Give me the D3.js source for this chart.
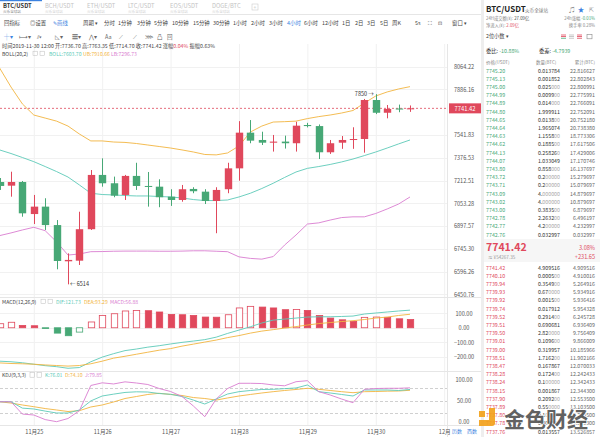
<!DOCTYPE html>
<html lang="zh">
<head>
<meta charset="utf-8">
<title>BTC/USDT 4小时 K线</title>
<script src="https://cdn.jsdelivr.net/npm/d3@7"></script>
<style>
body{margin:0;background:#fff;overflow:hidden}
svg{display:block;font-family:"Noto Sans CJK SC","Noto Sans",sans-serif}
</style>
</head>
<body>
<script>
// 4h candles, 2019-11-24 12:00 .. 2019-11-30 12:00
var times = ["2019-11-24 12:00","2019-11-24 16:00","2019-11-24 20:00",
  "2019-11-25 00:00","2019-11-25 04:00","2019-11-25 08:00","2019-11-25 12:00","2019-11-25 16:00","2019-11-25 20:00",
  "2019-11-26 00:00","2019-11-26 04:00","2019-11-26 08:00","2019-11-26 12:00","2019-11-26 16:00","2019-11-26 20:00",
  "2019-11-27 00:00","2019-11-27 04:00","2019-11-27 08:00","2019-11-27 12:00","2019-11-27 16:00","2019-11-27 20:00",
  "2019-11-28 00:00","2019-11-28 04:00","2019-11-28 08:00","2019-11-28 12:00","2019-11-28 16:00","2019-11-28 20:00",
  "2019-11-29 00:00","2019-11-29 04:00","2019-11-29 08:00","2019-11-29 12:00","2019-11-29 16:00","2019-11-29 20:00",
  "2019-11-30 00:00","2019-11-30 04:00","2019-11-30 08:00","2019-11-30 12:00"];
var open  = [7202,7176,7202,6979,7030,6904,6663,6667,6876,7252,7193,7111,7245,7174,7169,7099,7076,7153,7134,7069,7151,7299,7559,7505,7485,7493,7481,7616,7608,7415,7485,7507,7512,7805,7708,7740,7736.70];
var high  = [7230,7275,7209,7111,7088,6938,6715,6995,7287,7371,7240,7252,7339,7273,7221,7151,7181,7165,7151,7165,7339,7645,7653,7566,7542,7537,7640,7632,7620,7505,7534,7599,7813,7850,7767,7770,7763.35];
var low   = [7146,7099,6961,6911,6871,6611,6514,6639,6871,7169,7095,7076,7146,7030,7026,7035,7064,7123,7048,6849,7123,7211,7481,7468,7420,7442,7420,7598,7366,7403,7440,7440,7412,7698,7666,7712,7714.70];
var close = [7174,7202,6984,7030,6904,6665,6672,6876,7252,7193,7106,7245,7174,7171,7095,7076,7151,7137,7069,7146,7299,7559,7500,7485,7493,7481,7611,7608,7415,7481,7505,7512,7805,7708,7737,7736,7741.42];

var bollUp  = [8054,7905,7775,7691,7668,7645,7608,7549,7498,7498,7490,7487,7479,7468,7457,7446,7432,7417,7399,7396,7410,7461,7564,7608,7638,7641,7645,7664,7679,7691,7706,7725,7782,7836,7867,7890,7908];
var bollMid = [7432,7406,7377,7347,7312,7276,7237,7181,7123,7114,7111,7107,7104,7104,7100,7097,7090,7079,7072,7072,7076,7097,7123,7156,7193,7234,7273,7299,7312,7327,7345,7366,7391,7417,7446,7476,7505];
var bollLow = [6833,6851,6871,6889,6866,6791,6704,6711,6726,6727,6729,6730,6730,6730,6729,6729,6730,6732,6732,6729,6726,6692,6682,6677,6694,6770,6837,6911,6919,6938,6955,6960,6960,6983,7014,7048,7097];

var macdHist = [28,38,16,14,-2,-37,-55,-30,40,85,97,116,120,118,109,92,90,85,74,73,90,137,148,143,137,125,126,120,85,67,55,44,72,74,72,62,56.88];
var dif = [-231,-235,-242,-252,-262,-269,-280,-275,-235,-203,-179,-158,-147,-134,-124,-112,-101,-92,-82,-65,-39,-16,7,33,53,60,67,74,76,76,78,81,95,102,109,116,121.73];
var dea = [-243,-247,-249,-252,-257,-261,-265,-261,-249,-231,-210,-197,-183,-169,-155,-144,-127,-113,-99,-85,-68,-54,-37,-23,-13,-2,8,19,29,36,43,49,57,67,74,85,93.29];

var kdjK = [47,47,32,30,25,20.5,20.5,27.6,49,60.6,65,69,70.5,70,66.5,64.6,59.4,51,41.7,53.5,65.3,70.8,73.6,76,76.4,78,79.5,86.6,70.8,67.7,64.2,60.6,74.8,74.8,74.8,73.6,76.01];
var kdjD = [47,44,39.4,35.4,31,27.6,24,26,34.7,39.4,46.5,54.7,59.4,64.2,67,64.2,61.8,57,54.7,51,56,60.6,64.2,67.7,70.8,73.6,76,78.8,76.4,73.6,70.8,68.4,70.8,71.2,72,72.4,74.10];
var kdjJ = [47,47,18,15.8,5,0,7.5,26,85.4,91.7,89,94,91.3,87.7,78.3,71.2,59.4,37,11.8,53.5,78.3,90.6,90.6,90,86.6,84.7,94.3,96.7,70.8,63,53.5,44.8,76.4,78.3,78.8,78.8,79.85];

var priceTicks = [8064.22,7886.16,7541.83,7376.53,7212.51,7053.28,6897.57,6745.30,6596.26,6450.76];
var macdTicks = [100,0,-100,-200];
var kdjTicks = [100,50,0];
var kdjDash = [80,50,20];
var dayTicks = ["2019-11-25 00:00","2019-11-26 00:00","2019-11-27 00:00","2019-11-28 00:00","2019-11-29 00:00","2019-11-30 00:00","2019-12-01 00:00"];
var dayLabels = ["11月25","11月26","11月27","11月28","11月29","11月30","12月"];

var lastPrice = 7741.42;

// order book [price, qty, cumulative]
var asks = [["7745.20","0.013784","22.816627"],["7745.13","0.001852","22.802843"],["7745.00","0.025000","22.800991"],
  ["7744.99","0.009900","22.775991"],["7744.89","0.014000","22.766091"],["7744.80","1.999911","22.752091"],
  ["7744.65","0.013800","20.752180"],["7744.64","1.965074","20.738380"],["7744.63","1.155800","18.773306"],
  ["7744.62","0.188500","17.617506"],["7744.13","0.258260","17.429006"],["7744.07","1.033049","17.170746"],
  ["7743.80","0.858000","16.137697"],["7743.72","0.200000","15.279697"],["7743.71","0.200000","15.079697"],
  ["7743.09","4.000000","14.879697"],["7743.02","4.000000","10.879697"],["7743.00","0.383500","6.879697"],
  ["7742.78","2.263200","6.496197"],["7742.77","4.200000","4.232997"],["7742.76","0.032997","0.032997"]];
var bids = [["7741.42","4.909516","4.909516"],["7740.10","0.000500","4.910016"],["7739.94","0.354900","5.264916"],
  ["7739.93","0.670000","5.934916"],["7739.92","0.001500","5.936416"],["7739.74","0.017912","5.954328"],
  ["7739.52","0.291400","6.245728"],["7739.51","0.690681","6.936409"],["7739.50","2.820000","9.756409"],
  ["7739.01","0.109600","9.866009"],["7739.00","0.319957","10.185966"],["7738.51","1.716200","11.902166"],
  ["7738.47","0.167867","12.070033"],["7738.28","0.172400","12.242433"],["7738.24","0.100000","12.342433"],
  ["7738.15","0.001867","12.344300"],["7737.90","0.209200","12.553500"],["7737.89","0.550000","13.103500"],
  ["7737.80","0.100000","13.203500"],["7737.78","0.309800","13.513300"],["7737.76","0.013557","13.526857"]];

var W = 600, H = 437;
var RED = "#e0485c", GREEN = "#47a876", TEAL = "#5ccab8", ORANGE = "#f2b440", PINK = "#d97dd0";
var GRID = "#f1f1f1", TXT = "#555", BLUE = "#3b82e0";

var parseT = d3.timeParse("%Y-%m-%d %H:%M");
var bars = times.map(function(t, i) {
  return {t: parseT(t), o: open[i], h: high[i], l: low[i], c: close[i],
          up: bollUp[i], mid: bollMid[i], lo: bollLow[i],
          m: macdHist[i], prev: i ? macdHist[i-1] : null, dif: dif[i], dea: dea[i],
          k: kdjK[i], d: kdjD[i], j: kdjJ[i]};
});

var svg = d3.select("body").append("svg").attr("width", W).attr("height", H);

var x = d3.scaleTime().domain([parseT(dayTicks[0]), parseT(dayTicks[6])]).range([33.8, 444.2]);
var y = d3.scaleLog().domain([6450.76, 8064.22]).range([294.3, 66.7]);
var yM = d3.scaleLinear().domain([-200, 100]).range([356.7, 313.3]);
var yK = d3.scaleLinear().domain([0, 100]).range([421.7, 379.3]);
var bw = 7.4, plotR = 447;

var defs = svg.append("defs");
defs.append("clipPath").attr("id", "cMain").append("rect").attr("x", 0).attr("y", 58).attr("width", plotR).attr("height", 239);
defs.append("clipPath").attr("id", "cMacd").append("rect").attr("x", 0).attr("y", 298).attr("width", plotR).attr("height", 73);
defs.append("clipPath").attr("id", "cKdj").append("rect").attr("x", 0).attr("y", 372).attr("width", plotR).attr("height", 53);

// ---- grid
var grid = svg.append("g");
grid.selectAll(".vg").data(dayTicks).enter().append("line")
  .attr("x1", function(d) { return x(parseT(d)) + 0.5; }).attr("x2", function(d) { return x(parseT(d)) + 0.5; })
  .attr("y1", 44).attr("y2", 425).attr("stroke", GRID);
grid.selectAll(".hp").data(priceTicks).enter().append("line")
  .attr("x1", 0).attr("x2", plotR).attr("y1", function(d) { return Math.round(y(d)) + 0.5; })
  .attr("y2", function(d) { return Math.round(y(d)) + 0.5; }).attr("stroke", GRID);
grid.selectAll(".hm").data(macdTicks).enter().append("line")
  .attr("x1", 0).attr("x2", plotR).attr("y1", function(d) { return Math.round(yM(d)) + 0.5; })
  .attr("y2", function(d) { return Math.round(yM(d)) + 0.5; }).attr("stroke", GRID);
grid.selectAll(".hk").data(kdjDash).enter().append("line")
  .attr("x1", 0).attr("x2", plotR).attr("y1", function(d) { return Math.round(yK(d)) + 0.5; })
  .attr("y2", function(d) { return Math.round(yK(d)) + 0.5; })
  .attr("stroke", "#d0d0d0").attr("stroke-dasharray", "3,2");

// panel borders
[[0, 482, 14.5, 14.5], [0, 482, 297.5, 297.5], [0, 482, 371.5, 371.5], [0, 482, 425.5, 425.5]].forEach(function(l) {
  svg.append("line").attr("x1", l[0]).attr("x2", l[1]).attr("y1", l[2]).attr("y2", l[3]).attr("stroke", "#e6e6e6");
});
svg.append("line").attr("x1", plotR + 0.5).attr("x2", plotR + 0.5).attr("y1", 44).attr("y2", 437).attr("stroke", "#e6e6e6");
svg.append("rect").attr("x", 481).attr("y", 0).attr("width", 3).attr("height", H).attr("fill", "#eeeeee");

// ---- main chart
var main = svg.append("g").attr("clip-path", "url(#cMain)");
function lineOf(key, sc) {
  return d3.line().x(function(d) { return x(d.t); }).y(function(d) { return sc(d[key]); });
}
main.append("path").datum(bars).attr("d", lineOf("up", y)).attr("fill", "none").attr("stroke", ORANGE).attr("stroke-width", 0.9);
main.append("path").datum(bars).attr("d", lineOf("mid", y)).attr("fill", "none").attr("stroke", TEAL).attr("stroke-width", 0.9);
main.append("path").datum(bars).attr("d", lineOf("lo", y)).attr("fill", "none").attr("stroke", PINK).attr("stroke-width", 0.9);

main.append("line").attr("x1", 0).attr("x2", plotR).attr("y1", y(lastPrice)).attr("y2", y(lastPrice))
  .attr("stroke", RED).attr("stroke-width", 0.8).attr("stroke-dasharray", "2,2");

var cg = main.selectAll(".candle").data(bars).enter().append("g");
cg.append("line")
  .attr("x1", function(d) { return Math.round(x(d.t)) + 0.5; }).attr("x2", function(d) { return Math.round(x(d.t)) + 0.5; })
  .attr("y1", function(d) { return y(d.h); }).attr("y2", function(d) { return y(d.l); })
  .attr("stroke", function(d) { return d.c >= d.o ? RED : GREEN; });
cg.append("rect")
  .attr("x", function(d) { return Math.round(x(d.t)) + 0.5 - bw / 2; })
  .attr("width", bw)
  .attr("y", function(d) { return y(Math.max(d.o, d.c)); })
  .attr("height", function(d) { return Math.max(1, y(Math.min(d.o, d.c)) - y(Math.max(d.o, d.c))); })
  .attr("fill", function(d) { return d.c >= d.o ? RED : GREEN; });

// max / min labels
var hiBar = bars.reduce(function(a, b) { return b.h > a.h ? b : a; });
var loBar = bars.reduce(function(a, b) { return b.l < a.l ? b : a; });
svg.append("text").attr("x", x(hiBar.t) - 2).attr("y", y(hiBar.h) + 2).attr("text-anchor", "end")
  .attr("font-size", 5.5).attr("fill", "#333").text(d3.format("d")(hiBar.h) + " →");
svg.append("text").attr("x", x(loBar.t) + 2).attr("y", y(loBar.l) + 2).attr("text-anchor", "start")
  .attr("font-size", 5.5).attr("fill", "#333").text("← " + d3.format("d")(loBar.l));

// ---- MACD
var mg = svg.append("g").attr("clip-path", "url(#cMacd)");
mg.selectAll(".mb").data(bars).enter().append("rect")
  .attr("x", function(d) { return Math.round(x(d.t)) + 1 - bw / 2; })
  .attr("width", bw - 1)
  .attr("y", function(d) { return Math.min(yM(d.m), yM(0)); })
  .attr("height", function(d) { return Math.max(0.8, Math.abs(yM(d.m) - yM(0))); })
  .attr("fill", function(d) {
    var rising = d.prev === null || d.m >= d.prev;
    return rising ? "#fff" : (d.m >= 0 ? RED : GREEN);
  })
  .attr("stroke", function(d) { return d.m >= 0 ? RED : GREEN; })
  .attr("stroke-width", 0.8);
mg.append("path").datum(bars).attr("d", lineOf("dif", yM)).attr("fill", "none").attr("stroke", TEAL).attr("stroke-width", 0.9);
mg.append("path").datum(bars).attr("d", lineOf("dea", yM)).attr("fill", "none").attr("stroke", ORANGE).attr("stroke-width", 0.9);

// ---- KDJ
var kg = svg.append("g").attr("clip-path", "url(#cKdj)");
kg.append("path").datum(bars).attr("d", lineOf("d", yK)).attr("fill", "none").attr("stroke", ORANGE).attr("stroke-width", 0.9);
kg.append("path").datum(bars).attr("d", lineOf("k", yK)).attr("fill", "none").attr("stroke", TEAL).attr("stroke-width", 0.9);
kg.append("path").datum(bars).attr("d", lineOf("j", yK)).attr("fill", "none").attr("stroke", PINK).attr("stroke-width", 0.9);

// ---- axes
function rightAxis(sc, ticks) {
  var g = svg.append("g").attr("transform", "translate(464,0)")
    .call(d3.axisRight(sc).tickValues(ticks).tickSize(0).tickPadding(0).tickFormat(d3.format(".2f")));
  g.attr("font-size", 5.6).attr("font-family", null);
  g.select(".domain").remove();
  g.selectAll("text").attr("text-anchor", "middle").attr("x", 0).attr("fill", TXT);
}
rightAxis(y, priceTicks);
rightAxis(yM, macdTicks);
rightAxis(yK, kdjTicks);

var xa = svg.append("g").attr("transform", "translate(0,426)")
  .call(d3.axisBottom(x).tickValues(dayTicks.map(parseT)).tickSize(0).tickPadding(4)
    .tickFormat(function(d, i) { return dayLabels[i]; }));
xa.attr("font-size", 5.6).attr("font-family", null);
xa.select(".domain").remove();
xa.selectAll("text").attr("fill", TXT);

// current price tag
svg.append("rect").attr("x", 449).attr("y", y(lastPrice) - 5).attr("width", 32).attr("height", 10).attr("fill", RED);
svg.append("text").attr("x", 465).attr("y", y(lastPrice) + 2.2).attr("text-anchor", "middle")
  .attr("font-size", 5.8).attr("fill", "#fff").text(lastPrice.toFixed(2));

// ---- header / toolbars
function txt(xp, yp, s, size, col, anchor, weight) {
  return svg.append("text").attr("x", xp).attr("y", yp).attr("font-size", size).attr("fill", col || TXT)
    .attr("text-anchor", anchor || "start").attr("font-weight", weight || "normal").text(s);
}
svg.append("rect").attr("x", 0).attr("y", 0).attr("width", 42).attr("height", 1.2).attr("fill", BLUE);
[["BTC/USDT", 3], ["BCH/USDT", 45], ["ETH/USDT", 87], ["LTC/USDT", 128], ["EOS/USDT", 170], ["DOGE/BTC", 212]].forEach(function(t, i) {
  txt(t[1], 7.5, t[0], 5.8, i ? "#c4c4c4" : "#333", "start", i ? "normal" : "bold");
  txt(t[1], 12.5, "火币全球站", 3.6, i ? "#d2d2d2" : "#888");
});
svg.append("rect").attr("x", 252).attr("y", 4).attr("width", 6).attr("height", 6).attr("fill", "none").attr("stroke", "#ccc").attr("stroke-width", 0.6);
txt(255, 9, "+", 5, "#bbb", "middle");

[["回指标", 4], ["◎设置", 30], ["✎画线", 53, BLUE], ["周期 ▾", 83], ["分时", 104], ["1分钟", 118], ["3分钟", 137],
 ["5分钟", 154], ["10分钟", 172], ["15分钟", 193], ["30分钟", 213], ["1小时", 233], ["2小时", 251], ["3小时", 269],
 ["4小时", 287, BLUE], ["6小时", 304], ["12小时", 322], ["1日", 342], ["2日", 355], ["3日", 367], ["5日", 380],
 ["周K", 392], ["5s", 415], ["⛶", 428], ["⊡", 438], ["窗口 ▾", 452]].forEach(function(t) {
  txt(t[1], 25, t[0], 5.4, t[2] || "#444");
});
[["┼▾", 4, BLUE], ["⟼▾", 19], ["⫽▾", 37], ["◺▾", 55], ["☰▾", 72], ["⋀▾", 89], ["Aa", 105], ["⟋", 119], ["⟋", 133], ["⋙", 145], ["凸", 157], ["回", 167]].forEach(function(t) {
  txt(t[1], 38.5, t[0], 5.5, t[2] || "#666");
});

var info = svg.append("text").attr("x", 2).attr("y", 47.5).attr("font-size", 5.2).attr("fill", "#444")
  .attr("textLength", 213).attr("lengthAdjust", "spacing");
info.append("tspan").text("时间2019-11-30 12:00 开:7736.70 高:7763.35 低:7714.70 收:7741.42 涨幅");
info.append("tspan").attr("fill", RED).text("0.04%");
info.append("tspan").text(" 振幅0.63%");

function legendRow(yp, title, boxX, items) {
  txt(2, yp, title, 5.1, "#444");
  [0, 1].forEach(function(k) {
    svg.append("rect").attr("x", boxX + k * 7).attr("y", yp - 4.3).attr("width", 4.5).attr("height", 4.5)
      .attr("fill", "none").attr("stroke", "#bbb").attr("stroke-width", 0.5);
  });
  items.forEach(function(it) { txt(it[2], yp, it[0], 5.1, it[1]); });
}
legendRow(55.5, "BOLL(20,2)", 33, [["BOLL:7603.70", TEAL, 49], ["UB:7910.66", ORANGE, 83], ["LB:7296.73", PINK, 111]]);
legendRow(303.5, "MACD(12,26,9)", 41, [["DIF:121.73", TEAL, 56], ["DEA:93.29", ORANGE, 84], ["MACD:56.88", PINK, 110]]);
legendRow(377, "KDJ(9,3,3)", 30, [["K:76.01", TEAL, 45], ["D:74.10", ORANGE, 65], ["J:79.85", PINK, 85]]);

txt(452, 433, "历数", 5, BLUE);
txt(467, 433, "西数", 5, BLUE);

// ---- order book panel
txt(486, 12, "BTC/USDT", 8, "#222", "start", "bold");
txt(525, 11.5, "火币全球站", 4.6, "#777");
txt(572, 12, "♫", 6, "#888", "middle");
txt(581, 12, "★", 6.5, BLUE, "middle");
txt(591, 12, "⇱", 6, "#888", "middle");
var r1 = svg.append("text").attr("x", 486).attr("y", 19.8).attr("font-size", 4.3).attr("fill", "#888");
r1.append("tspan").text("24H成交额(¥): ");
r1.append("tspan").attr("fill", "#444").text("27.09亿");
var r1b = svg.append("text").attr("x", 595).attr("y", 19.8).attr("font-size", 4.3).attr("fill", "#888").attr("text-anchor", "end");
r1b.append("tspan").text("24h涨幅 ");
r1b.append("tspan").attr("fill", GREEN).text("-0.01%");
var r2 = svg.append("text").attr("x", 486).attr("y", 27.3).attr("font-size", 4.3).attr("fill", "#888");
r2.append("tspan").text("净流入(¥): ");
r2.append("tspan").attr("fill", RED).text("2.09亿");
txt(595, 27.3, "换手率 0.28%", 4.3, "#888", "end");
txt(486, 38, "2位小数 ▾", 5.2, "#444");
[561, 569, 577].forEach(function(px, k) {
  [0, 1.6, 3.2].forEach(function(dy, m) {
    svg.append("rect").attr("x", px).attr("y", 34.6 + dy).attr("width", 5).attr("height", 0.8)
      .attr("fill", k === 0 ? (m < 2 ? RED : GREEN) : (k === 1 ? "#bbb" : RED));
  });
});
svg.append("rect").attr("x", 587).attr("y", 34.3).attr("width", 5).attr("height", 4.5).attr("fill", "none").attr("stroke", "#888").attr("stroke-width", 0.6);

var w1 = svg.append("text").attr("x", 486).attr("y", 53).attr("font-size", 5.3).attr("fill", "#333");
w1.append("tspan").text("委比: ");
w1.append("tspan").attr("fill", GREEN).text("-10.88%");
var w2 = svg.append("text").attr("x", 539).attr("y", 53).attr("font-size", 5.3).attr("fill", "#333");
w2.append("tspan").text("委差: ");
w2.append("tspan").attr("fill", GREEN).text("-4.7939");
txt(486, 63.5, "价格(USDT)", 4.5, "#888");
txt(536, 63.5, "数量(BTC)", 4.5, "#888");
txt(595, 63.5, "累计(BTC)", 4.5, "#888", "end");

function bookRows(rows, y0, col) {
  var g = svg.append("g").attr("font-size", 5.3);
  var r = g.selectAll("g").data(rows).enter().append("g")
    .attr("transform", function(d, i) { return "translate(0," + (y0 + i * 8.2) + ")"; });
  r.append("text").attr("x", 486).attr("fill", col).text(function(d) { return d[0]; });
  var q = r.append("text").attr("x", 560).attr("text-anchor", "end").attr("fill", "#333");
  q.append("tspan").text(function(d) { return d[1].replace(/0+$/, ""); });
  q.append("tspan").attr("fill", "#aaa").text(function(d) { var m = d[1].match(/0+$/); return m ? m[0] : ""; });
  r.append("text").attr("x", 595).attr("text-anchor", "end").attr("fill", "#666").text(function(d) { return d[2]; });
}
bookRows(asks, 72.6, GREEN);

svg.append("rect").attr("x", 484).attr("y", 239).attr("width", 116).attr("height", 23).attr("fill", "#f6f6f6");
txt(486, 251, "7741.42", 10.5, RED, "start", "bold");
txt(488, 259, "≈ ¥54267.35", 4.6, "#999");
txt(595, 250, "3.08%", 5.6, RED, "end");
txt(595, 259, "+231.65", 5.6, RED, "end");

bookRows(bids, 269.6, RED);

// ---- watermark (sits over the last rows, as in the screenshot)
var wm = svg.append("g").attr("opacity", 0.92);
wm.append("path").attr("d", "M489,408 h6 v15 a3,3 0 0 1 -3,3 h-13 v-6 h10 z").attr("fill", "#f3a21c");
wm.append("rect").attr("x", 479).attr("y", 411).attr("width", 6).attr("height", 6).attr("fill", "#f3a21c");
wm.append("text").attr("x", 504).attr("y", 427).attr("font-size", 21).attr("font-weight", "bold")
  .attr("fill", "#555").attr("stroke", "#fff").attr("stroke-width", 1.6).attr("paint-order", "stroke")
  .text("金色财经");
</script>
</body>
</html>
